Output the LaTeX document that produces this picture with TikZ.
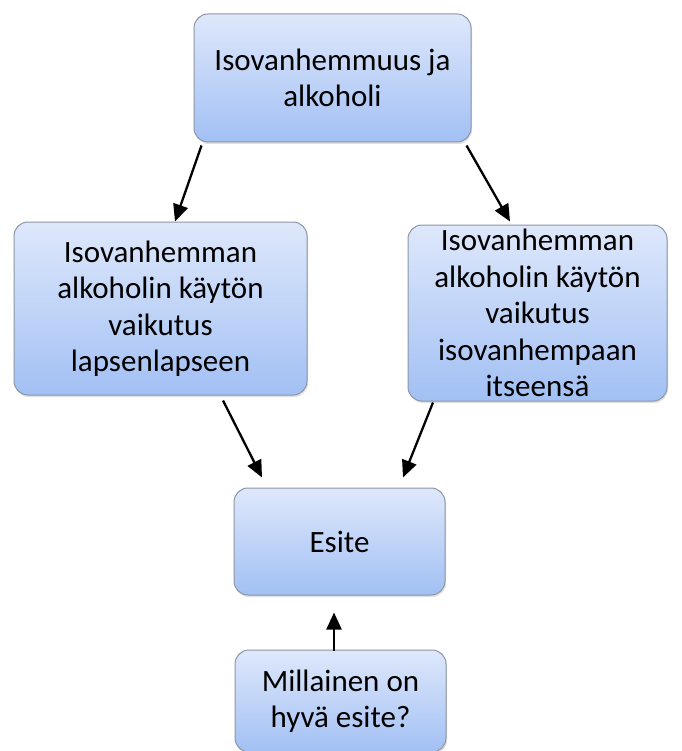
\documentclass[tikz,border=0pt]{standalone}
\usepackage{fontspec}
\setmainfont{Carlito}
\usetikzlibrary{positioning, arrows.meta, shadows}

\definecolor{boxtop}{HTML}{DEE8FB}
\definecolor{boxbot}{HTML}{A2C0F4}
\definecolor{boxline}{HTML}{8C96A6}

\tikzset{
  box/.style={draw=boxline, line width=1pt, rounded corners=14pt,
    top color=boxtop, bottom color=boxbot, align=center,
    inner sep=0pt, font=\fontsize{31}{36.5}\selectfont,
    drop shadow={shadow xshift=1pt, shadow yshift=-2pt, opacity=0.25}},
  arr/.style={line width=2.3pt, -{Triangle[length=17pt,width=15pt]}}
}

\begin{document}
\begin{tikzpicture}[x=1pt, y=1pt]
        \fill[white] (0,0) rectangle (681,-751);
        \useasboundingbox (0,0) rectangle (681,-751);
        \node[box, minimum width=277pt, minimum height=128pt] (n1) at (332.5,-78) {Isovanhemmuus ja\\alkoholi};
        \node[box, minimum width=293pt, minimum height=173pt] (n2) at (160.5,-308.5) {Isovanhemman\\alkoholin käytön\\vaikutus\\lapsenlapseen};
        \node[box, minimum width=259pt, minimum height=176pt] (n3) at (537.5,-313) {Isovanhemman\\alkoholin käytön\\vaikutus\\isovanhempaan\\itseensä};
        \node[box, minimum width=211pt, minimum height=107pt] (n4) at (339.5,-541.5) {Esite};
        \node[box, minimum width=211pt, minimum height=102pt] (n5) at (340.5,-701) {Millainen on\\hyvä esite?};
        \draw[arr] ([shift={(8,-3)}]n1.south west) -- ([shift={(14.5,0)}]n2.north);
        \draw[arr] ([shift={(-5,-3)}]n1.south east) -- ([shift={(-27.5,3)}]n3.north);
        \draw[arr] ([shift={(62.5,-5)}]n2.south) -- ([shift={(-77.5,10)}]n4.north);
        \draw[arr] ([shift={(-104.5,-1)}]n3.south) -- ([shift={(63.5,10)}]n4.north);
        \draw[arr] ([shift={(-6.5,-1)}]n5.north) -- ([shift={(-5.5,-17)}]n4.south);
        \end{tikzpicture}
\end{document}
